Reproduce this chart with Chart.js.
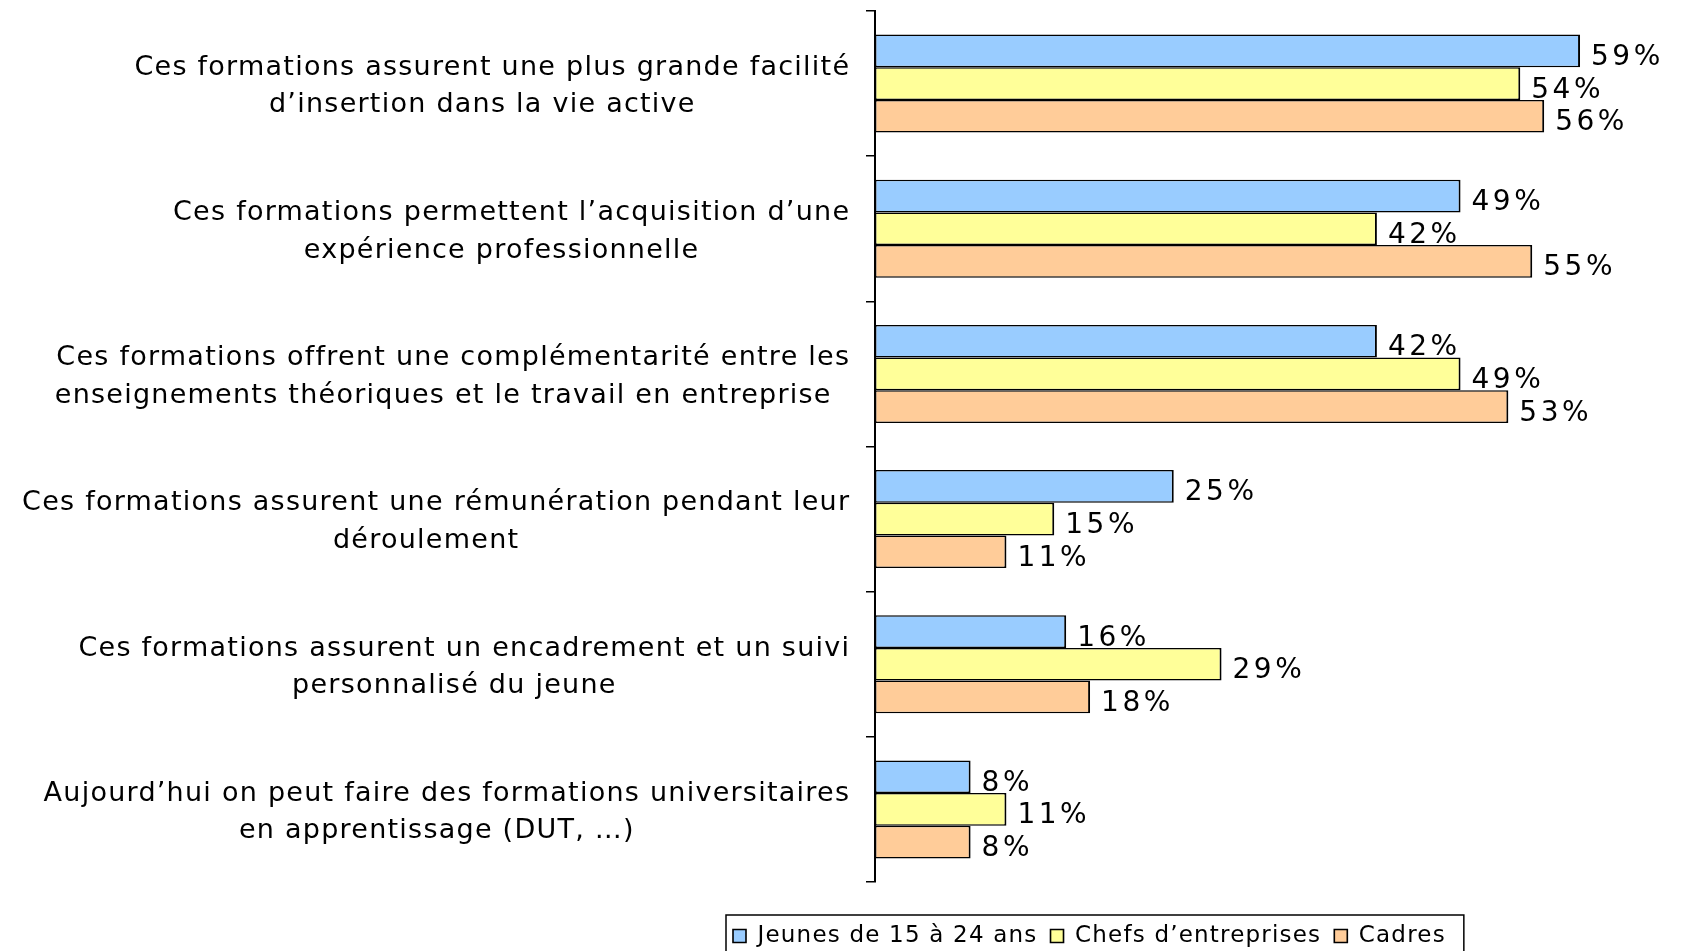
<!DOCTYPE html>
<html>
<head>
<meta charset="utf-8">
<script src="https://cdn.jsdelivr.net/npm/chart.js@4/dist/chart.umd.min.js"></script>
<style>
  html, body { margin: 0; padding: 0; background: #fff; }
  #wrap { width: 1683px; height: 951px; position: relative; }
</style>
</head>
<body>
<div id="wrap"><canvas id="c" width="1683" height="951"></canvas></div>
<script>
const categories = [
  ["Ces formations assurent une plus grande facilité", "d’insertion dans la vie active"],
  ["Ces formations permettent l’acquisition d’une", "expérience professionnelle"],
  ["Ces formations offrent une complémentarité entre les", "enseignements théoriques et le travail en entreprise"],
  ["Ces formations assurent une rémunération pendant leur", "déroulement"],
  ["Ces formations assurent un encadrement et un suivi", "personnalisé du jeune"],
  ["Aujourd’hui on peut faire des formations universitaires", "en apprentissage (DUT, …)"]
];
const seriesNames = ["Jeunes de 15 à 24 ans", "Chefs d’entreprises", "Cadres"];
const jeunes = [59, 49, 42, 25, 16, 8];
const chefs = [54, 42, 49, 15, 29, 11];
const cadres = [56, 55, 53, 11, 18, 8];
const seriesColors = ["#99CCFF", "#FFFF99", "#FFCC99"];

const FONT = '"DejaVu Sans", Verdana, sans-serif';
const LEGEND_SPACING = '1.2px';

const labelPlugin = {
  id: 'catLabels',
  afterDraw(chart) {
    const ctx = chart.ctx;
    const ys = chart.scales.y;
    const axisX = chart.chartArea.left;
    const R = axisX - 26;
    const lh = 37.5;
    ctx.save();
    ctx.font = '27px ' + FONT;
    ctx.letterSpacing = '1.25px';
    ctx.fillStyle = '#000';
    ctx.textBaseline = 'middle';
    ctx.textAlign = 'left';
    categories.forEach((lines, i) => {
      const yc = ys.getPixelForValue(i) + 3;
      const widths = lines.map(l => ctx.measureText(l).width - 1.25);
      const maxW = Math.max(...widths);
      const cx = R - maxW / 2;
      lines.forEach((l, j) => {
        const y = yc - (lines.length - 1) * lh / 2 + j * lh;
        const c = widths[j] === maxW ? cx : cx - 10;
        ctx.fillText(l, c - widths[j] / 2, y);
      });
    });
    ctx.restore();
  }
};

const valuePlugin = {
  id: 'values',
  afterDatasetsDraw(chart) {
    const ctx = chart.ctx;
    ctx.save();
    ctx.font = '28px ' + FONT;
    ctx.letterSpacing = '3.5px';
    ctx.fillStyle = '#000';
    ctx.textBaseline = 'alphabetic';
    ctx.textAlign = 'left';
    chart.data.datasets.forEach((ds, di) => {
      const meta = chart.getDatasetMeta(di);
      meta.data.forEach((bar, i) => {
        ctx.fillText(ds.data[i] + '%', bar.x + 11, bar.y + 14);
      });
    });
    ctx.restore();
  }
};

const legendPos = {
  id: 'legendPos',
  beforeUpdate(chart) { chart.ctx.letterSpacing = LEGEND_SPACING; },
  beforeDraw(chart) { chart.ctx.letterSpacing = LEGEND_SPACING; },
  afterLayout(chart) {
    const lg = chart.legend;
    const pad = lg.options.labels.padding;
    const w = lg.width, h = lg.height;
    lg.left = 733 - pad;
    lg.right = lg.left + w;
    const textCenter = 936;
    lg.top = textCenter - pad - 11.5;
    lg.bottom = lg.top + h;
  },
  afterDraw(chart) {
    const lg = chart.legend;
    const hb = lg.legendHitBoxes;
    if (!hb || !hb.length) return;
    const ctx = chart.ctx;
    const first = hb[0], last = hb[hb.length - 1];
    const left = first.left - 7;
    const right = last.left + last.width + 18;
    const top = first.top + first.height / 2 - 21;
    ctx.save();
    ctx.strokeStyle = '#000';
    ctx.lineWidth = 1.5;
    ctx.strokeRect(left, top, right - left, 80);
    ctx.restore();
  }
};

const datasets = [jeunes, chefs, cadres].map((d, i) => ({
  label: seriesNames[i],
  data: d,
  backgroundColor: seriesColors[i],
  borderColor: '#000',
  borderWidth: { top: 1.5, bottom: 1.5, left: 1.5, right: 2 },
  borderSkipped: false,
  barPercentage: 1.0,
  categoryPercentage: 0.675
}));

new Chart(document.getElementById('c'), {
  type: 'bar',
  data: { labels: categories, datasets },
  options: {
    indexAxis: 'y',
    responsive: false,
    animation: false,
    layout: { padding: { top: 11, right: 91, bottom: 23, left: 0 } },
    scales: {
      x: { display: false, min: 0, max: 60 },
      y: {
        afterFit(scale) { scale.width = 875; },
        ticks: { display: false },
        grid: { display: true, drawOnChartArea: false, drawTicks: true, tickLength: 9, color: '#000', lineWidth: 1.5 },
        border: { display: true, color: '#000', width: 2 }
      }
    },
    plugins: {
      legend: {
        position: 'bottom',
        align: 'start',
        labels: {
          font: { family: FONT, size: 23 },
          color: '#000',
          boxWidth: 13,
          boxHeight: 13,
          padding: 13
        }
      },
      tooltip: { enabled: false }
    }
  },
  plugins: [labelPlugin, valuePlugin, legendPos]
});
</script>
</body>
</html>
